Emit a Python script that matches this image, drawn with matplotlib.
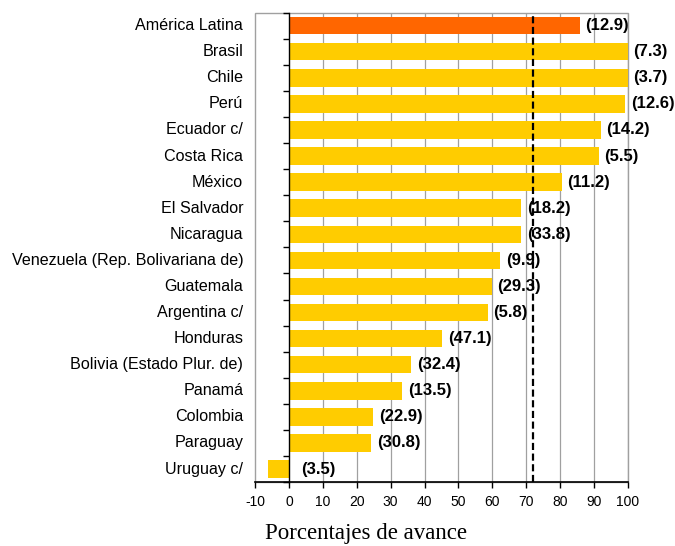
import matplotlib
matplotlib.use("Agg")
import matplotlib.pyplot as plt
from matplotlib.patches import Rectangle
import numpy as np

categories = ["América Latina", "Brasil", "Chile", "Perú", "Ecuador c/", "Costa Rica",
              "México", "El Salvador", "Nicaragua", "Venezuela (Rep. Bolivariana de)",
              "Guatemala", "Argentina c/", "Honduras", "Bolivia (Estado Plur. de)",
              "Panamá", "Colombia", "Paraguay", "Uruguay c/"]
values = [85.8, 100.0, 100.0, 99.3, 92.0, 91.4, 80.5, 68.6, 68.6, 62.4,
          59.8, 58.6, 45.3, 36.1, 33.4, 24.9, 24.3, -6.2]
labels = ["(12.9)", "(7.3)", "(3.7)", "(12.6)", "(14.2)", "(5.5)", "(11.2)", "(18.2)",
          "(33.8)", "(9.9)", "(29.3)", "(5.8)", "(47.1)", "(32.4)", "(13.5)", "(22.9)",
          "(30.8)", "(3.5)"]
reference_line = 72
xticks = list(range(-10, 101, 10))

plt.rcParams['font.family'] = ['Liberation Sans', 'DejaVu Sans']

fig = plt.figure(figsize=(6.75, 5.46), dpi=100)
ax = fig.add_axes([0.378, 0.117, 0.552, 0.860])

y = np.arange(len(categories))
colors = ["#FF6600"] + ["#FFCC00"] * (len(categories) - 1)
ax.barh(y, values, height=0.67, color=colors, zorder=3)

ax.set_xlim(-10, 100)
ax.set_ylim(len(categories) - 0.5, -0.5)

# grid
for t in xticks:
    if t not in (-10, 0):
        ax.axvline(t, color="#a0a0a0", lw=0.9, zorder=1)

# zero axis
ax.spines['left'].set_position(('data', 0))
ax.spines['left'].set_color('black')
ax.spines['left'].set_linewidth(1.0)
ax.spines['left'].set_zorder(4)
ax.spines['top'].set_visible(False)
ax.spines['right'].set_visible(False)
ax.spines['bottom'].set_color('black')
ax.spines['bottom'].set_linewidth(1.2)

ax.add_patch(Rectangle((0, 0), 1, 1, transform=ax.transAxes, fill=False,
                       edgecolor="#a0a0a0", lw=1.0, zorder=0, clip_on=False))

ax.set_yticks(y)
ax.set_yticklabels([])
ax.tick_params(axis='y', which='major', length=0)
ax.set_yticks(np.arange(-0.5, len(categories), 1), minor=True)
ax.tick_params(axis='y', which='minor', length=4, width=1, direction='out', color='black')

ax.set_xticks(xticks)
ax.set_xticklabels([str(t) for t in xticks], fontsize=10)
ax.tick_params(axis='x', length=4, width=1, direction='out', pad=5)

trans = ax.get_yaxis_transform()
for yi, c in zip(y, categories):
    ax.text(-0.032, yi, c, transform=trans, ha='right', va='center', fontsize=11.6)

for yi, v, lab in zip(y, values, labels):
    off = 4 if v >= 0 else 9
    ax.annotate(lab, (max(v, 0), yi), xytext=(off, 0), textcoords='offset points',
                ha='left', va='center', fontsize=12, fontweight='bold', zorder=5,
                annotation_clip=False)

ax.axvline(reference_line, color='black', lw=1.6, ls=(0, (3.2, 1.6)), zorder=6)

fig.text(0.542, 0.012, "Porcentajes de avance", ha='center', va='baseline',
         fontsize=16.5, family=['Liberation Serif', 'DejaVu Serif'])

fig.savefig("out.png", dpi=100)
